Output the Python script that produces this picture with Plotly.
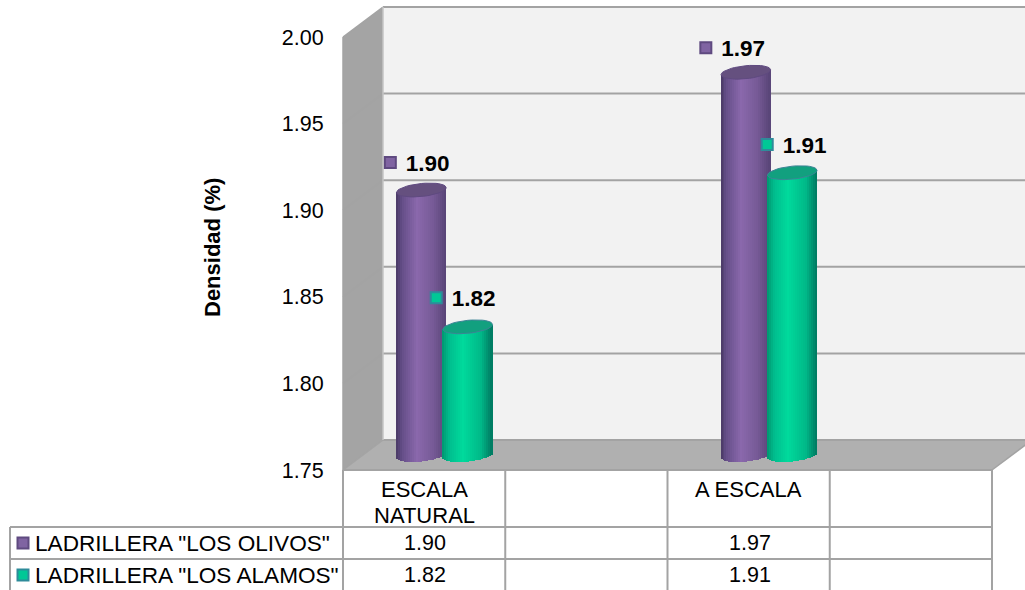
import math
import plotly.graph_objects as go

# ---- data ----
categories = [["ESCALA", "NATURAL"], [], ["A ESCALA"], []]
series_names = ['LADRILLERA "LOS OLIVOS"', 'LADRILLERA "LOS ALAMOS"']
olivos = [1.903, None, 1.971, None]
alamos = [1.824, None, 1.913, None]
y_ticks = [1.75, 1.80, 1.85, 1.90, 1.95, 2.00]
y_title = "Densidad (%)"

# ---- layout constants (page geometry) ----
W, H = 1025, 590
LEFT, RIGHT = 343, 992
Y_BOT, Y_TOP = 470, 37
SLOT = (RIGHT - LEFT) / len(categories)
PY = (Y_BOT - Y_TOP) / (y_ticks[-1] - y_ticks[0])
DEPTH_X, DEPTH_Y = 40, 30
BAR_SHIFT_X, BAR_SHIFT_Y = 20.4, 15
BAR_HW, BAR_B, BAR_TILT = 24.8, 6.5, 2.4
SERIES_OFFSET = 23.2
GRID = "#a3a3a3"
FONT = "Liberation Sans"


def X(px):
    return (px - LEFT) / SLOT


def Y(py):
    return y_ticks[0] + (Y_BOT - py) / PY


def dX(px):
    return px / SLOT


def dY(py):
    return py / PY


def lerp_color(stops, t):
    for (t0, c0), (t1, c1) in zip(stops, stops[1:]):
        if t <= t1:
            f = (t - t0) / (t1 - t0)
            return "rgb(%d,%d,%d)" % tuple(round(a + (b - a) * f) for a, b in zip(c0, c1))
    return "rgb(%d,%d,%d)" % stops[-1][1]


purple_stops = [(0, (72, 56, 100)), (0.12, (100, 78, 136)), (0.42, (138, 104, 172)),
                (0.75, (118, 90, 150)), (1, (88, 68, 118))]
green_stops = [(0, (0, 150, 112)), (0.15, (0, 190, 142)), (0.42, (0, 218, 156)),
               (0.78, (0, 184, 136)), (1, (0, 120, 96))]
series_style = [
    dict(name=series_names[0], values=olivos, sign=-1, stops=purple_stops, cap="#65507f",
         edge="#5f4a80", fill="#8064a2", mline="#5f4a80",
         lab_dx=[-31, None, -40, None], lab_dy=[-27.5, None, -24.5, None]),
    dict(name=series_names[1], values=alamos, sign=1, stops=green_stops, cap="#12a07f",
         edge="#3d8496", fill="#00c896", mline="#2e8b9a",
         lab_dx=[-31.5, None, -25, None], lab_dy=[-29, None, -28.3, None]),
]

shapes = []


def poly(pts, fill):
    d = "M " + " L ".join(f"{X(a)},{Y(b)}" for a, b in pts) + " Z"
    shapes.append(dict(type="path", path=d, xref="x", yref="y", fillcolor=fill, line=dict(width=0), layer="below"))


def seg(a, b, c, d, w=2, color=GRID):
    shapes.append(dict(type="line", xref="x", yref="y", x0=X(a), y0=Y(b), x1=X(c), y1=Y(d),
                       line=dict(color=color, width=w), layer="below"))


# back wall, side wall, floor
poly([(LEFT + DEPTH_X, Y_TOP - DEPTH_Y), (W + 10, Y_TOP - DEPTH_Y), (W + 10, Y_BOT - DEPTH_Y), (LEFT + DEPTH_X, Y_BOT - DEPTH_Y)], "#f2f2f2")
poly([(LEFT, Y_TOP), (LEFT + DEPTH_X, Y_TOP - DEPTH_Y), (LEFT + DEPTH_X, Y_BOT - DEPTH_Y), (LEFT, Y_BOT)], "#a4a4a4")
poly([(LEFT, Y_BOT), (LEFT + DEPTH_X, Y_BOT - DEPTH_Y), (RIGHT + DEPTH_X, Y_BOT - DEPTH_Y), (RIGHT, Y_BOT)], "#b0b0b0")
for t in y_ticks:
    py = Y_BOT - (t - y_ticks[0]) * PY
    seg(LEFT, py, LEFT + DEPTH_X, py - DEPTH_Y, 1.5)
    seg(LEFT + DEPTH_X, py - DEPTH_Y, W + 10, py - DEPTH_Y, 2)
seg(LEFT + DEPTH_X, Y_TOP - DEPTH_Y, LEFT + DEPTH_X, Y_BOT - DEPTH_Y, 1.5, "#c4c4c4")
seg(LEFT, Y_TOP, LEFT, Y_BOT, 1.5)
seg(RIGHT, Y_BOT, RIGHT + DEPTH_X, Y_BOT - DEPTH_Y, 1.5)

# data table grid
ROW1, ROW2 = 527, 559
seg(LEFT, Y_BOT, RIGHT, Y_BOT)
seg(10, ROW1, RIGHT, ROW1)
seg(10, ROW2, RIGHT, ROW2)
seg(10, ROW1, 10, H + 5)
for i in range(len(categories) + 1):
    seg(LEFT + i * SLOT, Y_BOT, LEFT + i * SLOT, H + 5)

fig = go.Figure()
lift = dY(BAR_SHIFT_Y)

# cylinders
for s in series_style:
    xs, bases, heights, colors = [], [], [], []
    cap_x, cap_y = [], []
    n = 25
    for i, v in enumerate(s["values"]):
        if v is None:
            continue
        cx = LEFT + (i + 0.5) * SLOT + BAR_SHIFT_X + s["sign"] * SERIES_OFFSET
        base_val = y_ticks[0] + lift
        top_val = v + lift
        for k in range(n):
            u = (k + 0.5) / n * 2 - 1
            xs.append(X(cx + u * BAR_HW))
            low = base_val - dY(BAR_B * math.sqrt(1 - u * u)) + dY(BAR_TILT * u)
            high = top_val + dY(BAR_TILT * u)
            bases.append(low)
            heights.append(high - low)
            colors.append(lerp_color(s["stops"], (u + 1) / 2))
        # cap ellipse
        for k in range(41):
            a = 2 * math.pi * k / 40
            cap_x.append(X(cx) + dX(BAR_HW * math.cos(a)))
            cap_y.append(top_val + dY(BAR_B * math.sin(a) + BAR_TILT * math.cos(a)))
        cap_x.append(None)
        cap_y.append(None)
    fig.add_trace(go.Bar(x=xs, y=heights, base=bases, width=dX(2 * BAR_HW / n),
                         marker=dict(color=colors, line=dict(width=0)), showlegend=False,
                         hoverinfo="skip"))
    fig.add_trace(go.Scatter(x=cap_x, y=cap_y, mode="lines", fill="toself", fillcolor=s["cap"],
                             line=dict(color=s["edge"], width=1), showlegend=False,
                             hoverinfo="skip"))

# data labels with their keys
for s in series_style:
    idx = [i for i, v in enumerate(s["values"]) if v is not None]
    lx, ly, txt = [], [], []
    for i in idx:
        v = s["values"][i]
        cx = LEFT + (i + 0.5) * SLOT + BAR_SHIFT_X + s["sign"] * SERIES_OFFSET
        lx.append(X(cx + s["lab_dx"][i]))
        ly.append(v + lift + dY(-s["lab_dy"][i]))
        txt.append(f"<b>{v:.2f}</b>")
    fig.add_trace(go.Scatter(x=lx, y=ly, mode="markers",
                             marker=dict(symbol="square", size=11, color=s["fill"],
                                         line=dict(color=s["mline"], width=2)),
                             showlegend=False, hoverinfo="skip"))
    fig.add_trace(go.Scatter(x=[a + dX(15.5) for a in lx], y=[b - dY(3) for b in ly], mode="text", text=txt,
                             textposition="middle right",
                             textfont=dict(family=FONT, size=22.5, color="#000"),
                             showlegend=False, hoverinfo="skip"))

annotations = []


def note(px, py, text, size=21.5, **kw):
    annotations.append(dict(x=X(px), y=Y(py), xref="x", yref="y", text=text, showarrow=False,
                            font=dict(family=FONT, size=size, color="#000"), **kw))


# table: category labels
for i, lines in enumerate(categories):
    for j, line in enumerate(lines):
        note(LEFT + (i + 0.5) * SLOT, 489 + 26 * j, line, size=22, yanchor="middle", xanchor="center")

# table: series rows and legend keys
for r, (s, row_y) in enumerate(zip(series_style, (543, 575))):
    note(33, row_y, s["name"], size=22.6, xanchor="left", yanchor="middle")
    fig.add_trace(go.Scatter(x=[X(23)], y=[Y(row_y)], mode="markers",
                             marker=dict(symbol="square", size=11, color=s["fill"],
                                         line=dict(color=s["mline"], width=2)),
                             showlegend=False, hoverinfo="skip"))
    for i, v in enumerate(s["values"]):
        if v is not None:
            note(LEFT + (i + 0.5) * SLOT + 1, row_y, f"{v:.2f}", size=21.5, xanchor="center", yanchor="middle")

note(212, 248, f"<b>{y_title}</b>", size=22, textangle=-90, xanchor="center", yanchor="middle")

fig.update_layout(
    width=W, height=H, autosize=False,
    margin=dict(l=0, r=0, t=0, b=0),
    paper_bgcolor="white", plot_bgcolor="white",
    barmode="overlay", bargap=0,
    shapes=shapes, annotations=annotations, showlegend=False,
    xaxis=dict(range=[X(0), X(W)], visible=False, fixedrange=True, domain=[0, 1]),
    yaxis=dict(range=[Y(H), Y(0)], anchor="free", position=LEFT / W, side="left",
               tickvals=y_ticks, tickformat=".2f", showgrid=False, zeroline=False, showline=False,
               ticks="outside", ticklen=15, tickcolor="rgba(0,0,0,0)",
               tickfont=dict(family=FONT, size=21.5, color="#000"), fixedrange=True),
)

fig.write_html("out.html", config=dict(displayModeBar=False),
               post_script="document.body.style.margin='0';document.documentElement.style.overflow='hidden';")
